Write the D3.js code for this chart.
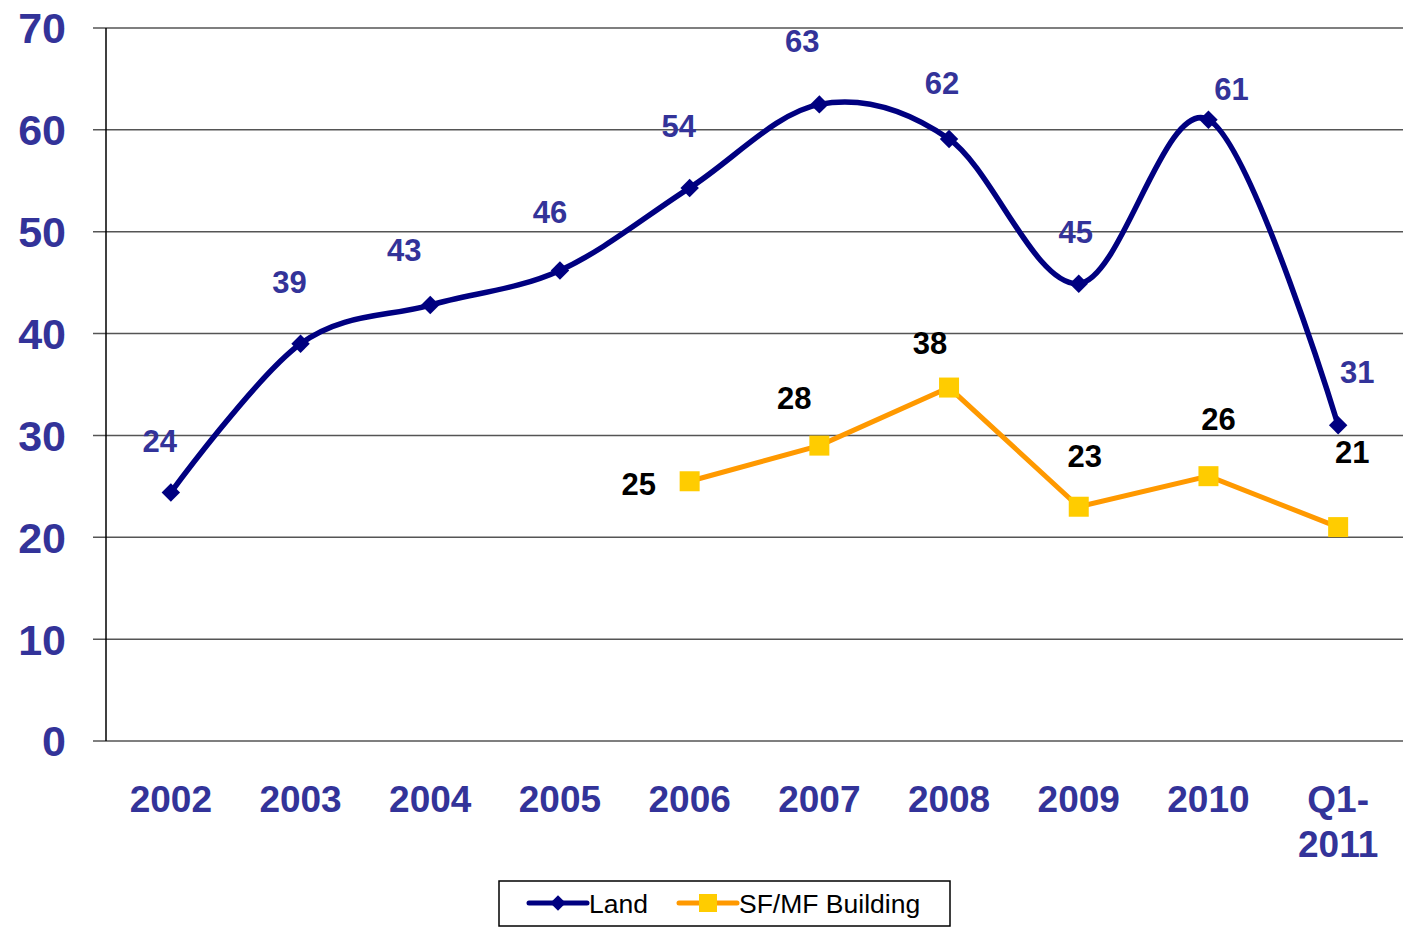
<!DOCTYPE html>
<html>
<head>
<meta charset="utf-8">
<script src="https://cdn.jsdelivr.net/npm/d3@7"></script>
<style>
  body { margin: 0; background: #fff; }
  text { font-family: "Liberation Sans", Arial, sans-serif; }
</style>
</head>
<body>
<div id="chart"></div>
<script>
// data
const categories = ["2002", "2003", "2004", "2005", "2006", "2007", "2008", "2009", "2010", "Q1-2011"];
const landValues = [24.4, 39.0, 42.8, 46.2, 54.3, 62.5, 59.1, 44.9, 61.0, 31.0];
const landLabels = ["24", "39", "43", "46", "54", "63", "62", "45", "61", "31"];
const buildingValues = [null, null, null, null, 25.5, 29.0, 34.7, 23.0, 26.0, 21.0];
const buildingLabels = [null, null, null, null, "25", "28", "38", "23", "26", "21"];
const yTicks = [0, 10, 20, 30, 40, 50, 60, 70];

// label nudges (pixels), as placed by hand in the original
const landLabelOffset = [[-11, -52], [-11, -62], [-26, -55], [-10, -59], [-11, -62], [-17, -64], [-7, -56], [-3, -52], [23, -31], [19, -53]];
const buildingLabelOffset = [null, null, null, null, [-51, 3], [-25, -48], [-19, -45], [6, -51], [10, -57], [14, -75]];

const W = 1403, H = 931;
const margin = { LEFT: 106, RIGHT: 0, TOP: 28, BOTTOM: 190 };

const svg = d3.select("#chart").append("svg")
  .attr("width", W)
  .attr("height", H);

const x = d3.scalePoint().domain(categories).range([margin.LEFT, W - margin.RIGHT]).padding(0.5);
const y = d3.scaleLinear().domain([0, 70]).range([H - margin.BOTTOM, margin.TOP]);

// gridlines + little ticks left of the axis
svg.append("g")
  .selectAll("line")
  .data(yTicks)
  .join("line")
  .attr("x1", margin.LEFT - 13)
  .attr("x2", W - margin.RIGHT)
  .attr("y1", d => y(d))
  .attr("y2", d => y(d))
  .attr("stroke", "#555")
  .attr("stroke-width", 1.5);

// y axis line
svg.append("line")
  .attr("x1", margin.LEFT).attr("x2", margin.LEFT)
  .attr("y1", y(70)).attr("y2", y(0))
  .attr("stroke", "#000")
  .attr("stroke-width", 1.5);

// y tick labels
svg.append("g")
  .selectAll("text")
  .data(yTicks)
  .join("text")
  .attr("x", 66)
  .attr("y", d => y(d))
  .attr("dy", "0.36em")
  .attr("text-anchor", "end")
  .attr("font-size", "43px")
  .attr("font-weight", "bold")
  .attr("fill", "#333399")
  .text(d => d);

// x labels (Q1-2011 wraps)
const xl = svg.append("g")
  .selectAll("text")
  .data(categories)
  .join("text")
  .attr("x", d => x(d))
  .attr("y", 812)
  .attr("text-anchor", "middle")
  .attr("font-size", "37px")
  .attr("font-weight", "bold")
  .attr("fill", "#333399");
xl.each(function(d) {
  const parts = d === "Q1-2011" ? ["Q1-", "2011"] : [d];
  d3.select(this).selectAll("tspan")
    .data(parts)
    .join("tspan")
    .attr("x", x(d))
    .attr("dy", (p, i) => i === 0 ? 0 : 45)
    .text(p => p);
});

const landData = categories.map((c, i) => ({ c, v: landValues[i], label: landLabels[i], off: landLabelOffset[i] }));
const buildingData = categories.map((c, i) => ({ c, v: buildingValues[i], label: buildingLabels[i], off: buildingLabelOffset[i] }))
  .filter(d => d.v !== null);

// Land: smoothed line
const smoothLine = d3.line()
  .x(d => x(d.c))
  .y(d => y(d.v))
  .curve(d3.curveCardinal.tension(0));

const straightLine = d3.line()
  .x(d => x(d.c))
  .y(d => y(d.v));

svg.append("path")
  .attr("d", smoothLine(landData))
  .attr("fill", "none")
  .attr("stroke", "#000080")
  .attr("stroke-width", 5.5);

svg.append("g")
  .selectAll("path")
  .data(landData)
  .join("path")
  .attr("d", d3.symbol(d3.symbolSquare, 170))
  .attr("transform", d => `translate(${x(d.c)},${y(d.v)}) rotate(45)`)
  .attr("fill", "#000080");

svg.append("path")
  .attr("d", straightLine(buildingData))
  .attr("fill", "none")
  .attr("stroke", "#FF9900")
  .attr("stroke-width", 5);

svg.append("g")
  .selectAll("rect")
  .data(buildingData)
  .join("rect")
  .attr("x", d => x(d.c) - 10)
  .attr("y", d => y(d.v) - 10)
  .attr("width", 20)
  .attr("height", 20)
  .attr("fill", "#FFCC00");

// data labels
svg.append("g")
  .selectAll("text")
  .data(landData)
  .join("text")
  .attr("x", d => x(d.c) + d.off[0])
  .attr("y", d => y(d.v) + d.off[1])
  .attr("dy", "0.36em")
  .attr("text-anchor", "middle")
  .attr("font-size", "31px")
  .attr("font-weight", "bold")
  .attr("fill", "#333399")
  .text(d => d.label);

svg.append("g")
  .selectAll("text")
  .data(buildingData)
  .join("text")
  .attr("x", d => x(d.c) + d.off[0])
  .attr("y", d => y(d.v) + d.off[1])
  .attr("dy", "0.36em")
  .attr("text-anchor", "middle")
  .attr("font-size", "31px")
  .attr("font-weight", "bold")
  .attr("fill", "#000")
  .text(d => d.label);

// legend
const legend = svg.append("g").attr("transform", "translate(499, 881)");
legend.append("rect")
  .attr("width", 451)
  .attr("height", 45)
  .attr("fill", "#fff")
  .attr("stroke", "#000")
  .attr("stroke-width", 1.5);

const legendItems = [
  { name: "Land", x0: 30, stroke: "#000080", marker: "diamond" },
  { name: "SF/MF Building", x0: 180, stroke: "#FF9900", marker: "square" }
];
legendItems.forEach(it => {
  const g = legend.append("g").attr("transform", `translate(${it.x0}, 22)`);
  g.append("line").attr("x1", 0).attr("x2", 58)
    .attr("stroke", it.stroke).attr("stroke-width", 5).attr("stroke-linecap", "round");
  if (it.marker === "diamond") {
    g.append("path").attr("d", d3.symbol(d3.symbolSquare, 120))
      .attr("transform", "translate(29,0) rotate(45)")
      .attr("fill", "#000080");
  } else {
    g.append("rect").attr("x", 20).attr("y", -9).attr("width", 18).attr("height", 18)
      .attr("fill", "#FFCC00");
  }
  g.append("text")
    .attr("x", 60)
    .attr("y", 10)
    .attr("font-size", "26.5px")
    .attr("fill", "#000")
    .text(it.name);
});
</script>
</body>
</html>
